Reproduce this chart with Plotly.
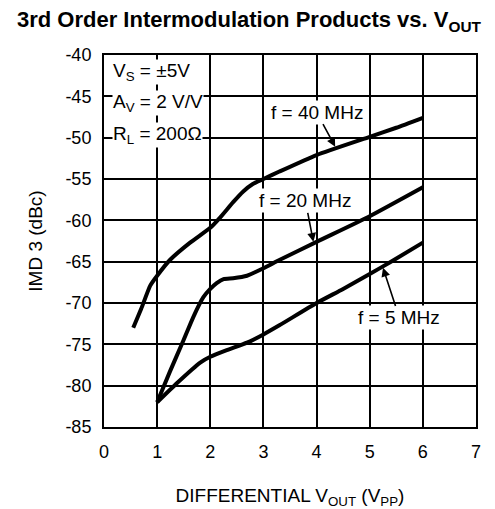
import plotly.graph_objects as go

# Data
x_40 = [0.55, 0.7, 0.87, 1.0, 1.24, 1.62, 2.0, 2.18, 2.43, 2.62, 2.8, 3.0, 3.3, 4.0, 5.0, 5.5, 6.0]
y_40 = [-73.0, -70.7, -67.9, -66.7, -64.8, -62.7, -60.9, -59.7, -57.8, -56.5, -55.6, -55.0, -54.1, -52.1, -49.9, -48.8, -47.6]

x_20 = [1.0, 1.24, 1.49, 1.68, 1.87, 2.0, 2.12, 2.25, 2.43, 2.69, 3.0, 3.3, 4.0, 5.0, 6.0]
y_20 = [-82.0, -78.3, -74.6, -71.7, -69.3, -68.3, -67.6, -67.1, -67.0, -66.7, -65.8, -64.8, -62.6, -59.5, -56.0]

x_5 = [1.0, 1.37, 1.81, 2.0, 2.31, 2.69, 3.0, 3.3, 4.0, 4.5, 5.0, 5.4, 6.0]
y_5 = [-82.0, -79.7, -77.2, -76.5, -75.7, -74.8, -73.8, -72.7, -70.0, -68.3, -66.5, -65.0, -62.7]

x_ticks = [0, 1, 2, 3, 4, 5, 6, 7]
y_ticks = [-40, -45, -50, -55, -60, -65, -70, -75, -80, -85]

FONT = "Liberation Sans, Arial, Helvetica, sans-serif"

fig = go.Figure()
for xs, ys, name in [(x_40, y_40, "f = 40 MHz"), (x_20, y_20, "f = 20 MHz"), (x_5, y_5, "f = 5 MHz")]:
    fig.add_trace(go.Scatter(x=xs, y=ys, mode="lines", name=name,
                             line=dict(color="black", width=4, shape="spline", smoothing=0.5),
                             showlegend=False, hoverinfo="skip"))

annos = []
# condition text block
for txt, yv in [("V<sub>S</sub> = ±5V", -42.1), ("A<sub>V</sub> = 2 V/V", -45.85), ("R<sub>L</sub> = 200Ω", -49.7)]:
    annos.append(dict(x=0.15, y=yv, xref="x", yref="y", text=txt, showarrow=False,
                      xanchor="left", yanchor="middle", bgcolor="white", borderpad=0,
                      font=dict(family=FONT, size=19, color="black")))
# curve labels with arrows
for txt, hx, hy, tx, ty in [("f = 40 MHz", 4.35, -51.1, 4.0, -46.9),
                            ("f = 20 MHz", 3.94, -62.6, 3.79, -57.65),
                            ("f = 5 MHz", 5.25, -65.75, 5.56, -71.8)]:
    annos.append(dict(x=hx, y=hy, ax=tx, ay=ty, xref="x", yref="y", axref="x", ayref="y",
                      text=txt, showarrow=True, arrowhead=2, arrowsize=1.1, arrowwidth=1.6,
                      arrowcolor="black", bgcolor="white", borderpad=1,
                      font=dict(family=FONT, size=19, color="black")))

fig.update_layout(
    width=495, height=509,
    margin=dict(l=104, r=19, t=55, b=82),
    paper_bgcolor="white", plot_bgcolor="white",
    font=dict(family=FONT, color="black", size=18),
    title=dict(text="<b>3rd Order Intermodulation Products vs. V<sub>OUT</sub></b>",
               x=0.503, xanchor="center", y=0.962, yanchor="middle",
               font=dict(family=FONT, size=22, color="black")),
    annotations=annos,
)
fig.update_xaxes(range=[0, 7], tickvals=x_ticks, ticktext=[str(v) for v in x_ticks],
                 showgrid=True, gridcolor="black", gridwidth=1.5,
                 showline=True, linecolor="black", linewidth=2, mirror=True,
                 zeroline=False, ticks="", ticklabelstandoff=7, automargin=False,
                 tickfont=dict(size=18),
                 title=dict(text="DIFFERENTIAL V<sub>OUT</sub> (V<sub>PP</sub>)", standoff=43,
                            font=dict(size=19)))
fig.update_yaxes(range=[-85, -40], tickvals=y_ticks, ticktext=[str(v) for v in y_ticks],
                 showgrid=True, gridcolor="black", gridwidth=1.5,
                 showline=True, linecolor="black", linewidth=2, mirror=True,
                 zeroline=False, ticks="", ticklabelstandoff=7, automargin=False,
                 tickfont=dict(size=18),
                 title=dict(text="IMD 3 (dBc)", standoff=18, font=dict(size=19)))

fig.write_html("out.html", config={"displayModeBar": False},
               post_script="document.body.style.margin='0';")
